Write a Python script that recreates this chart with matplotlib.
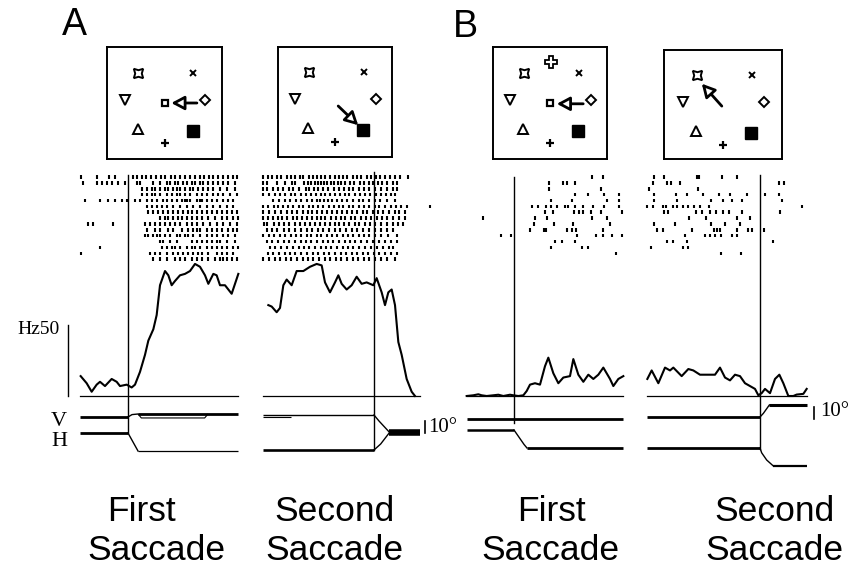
import matplotlib.pyplot as plt
from matplotlib.patches import FancyArrowPatch

plt.rcParams['font.family'] = ['Liberation Sans', 'DejaVu Sans']
SERIF = ['Liberation Serif', 'DejaVu Serif']

W, H = 849, 569

# ---------------- stimulus displays (display units, y up) ----------------
item_names = ['star', 'xmark', 'tri_down', 'diamond', 'tri_up', 'target', 'plus', 'cross', 'fix']
item_x = [-0.66, 0.72, -1.00, 1.02, -0.67, 0.70, 0.00, 0.03, 0.00]
item_y = [0.75, 0.75, 0.07, 0.07, -0.65, -0.70, -1.00, 1.02, 0.00]

items_A1 = ['star', 'xmark', 'tri_down', 'diamond', 'tri_up', 'target', 'plus', 'fix']
items_A2 = ['star', 'xmark', 'tri_down', 'diamond', 'tri_up', 'target', 'plus']
items_B1 = ['star', 'xmark', 'tri_down', 'diamond', 'tri_up', 'target', 'plus', 'cross', 'fix']
items_B2 = ['star', 'xmark', 'tri_down', 'diamond', 'tri_up', 'target', 'plus']

# saccade vectors drawn as arrows: (start, end)
arrow_A1 = [(0.81, 0.00), (0.17, 0.00)]
arrow_A2 = [(0.08, -0.10), (0.58, -0.58)]
arrow_B1 = [(0.83, -0.02), (0.17, -0.02)]
arrow_B2 = [(-0.03, -0.04), (-0.53, 0.52)]

# ---------------- rasters: spike times (ms from saccade), one list per trial ----------------
raster_A1 = [
    [-142, -94, -56, -39, 14, 28, 41, 55, 70, 84, 98, 112, 128, 142, 155, 170, 185, 200, 215, 228, 243, 256, 270, 285, 300, 315, 326],
    [-134, -94, -79, -64, -49, -29, -9, 28, 36, 76, 96, 116, 126, 141, 151, 166, 176, 191, 201, 216, 226, 241, 256, 271, 286, 301, 321],
    [41, 56, 71, 81, 96, 111, 121, 136, 146, 156, 171, 186, 196, 211, 226, 241, 256, 276, 296, 321],
    [41, 56, 71, 81, 96, 116, 131, 146, 156, 171, 186, 206, 221, 236, 256, 271, 286, 306, 326],
    [-129, -84, -59, -39, -19, -4, 21, 36, 56, 71, 86, 106, 116, 131, 146, 161, 171, 176, 186, 206, 216, 221, 236, 251, 266, 286, 301, 316],
    [56, 71, 86, 101, 116, 136, 156, 176, 196, 216, 236, 256, 276, 296, 316],
    [61, 76, 91, 106, 121, 136, 151, 166, 181, 191, 206, 221, 236, 251, 266, 281, 296, 311, 326],
    [96, 111, 121, 136, 151, 161, 176, 191, 206, 221, 241, 261, 281, 296, 316, 331],
    [-119, -104, -44, 51, 66, 81, 96, 111, 126, 141, 156, 176, 191, 206, 226, 246, 266, 286, 306, 326],
    [56, 81, 96, 121, 136, 161, 181, 196, 206, 216, 236, 251, 266, 281, 301, 316, 326],
    [51, 61, 76, 86, 96, 111, 126, 146, 156, 171, 181, 196, 216, 236, 251, 266, 286, 301, 321],
    [96, 106, 126, 146, 191, 206, 221, 236, 251, 266, 276, 296, 321],
    [-84, 101, 116, 131, 141, 156, 176, 191, 201, 216, 236, 251, 266, 281, 296, 316, 331],
    [-142, 66, 81, 96, 116, 136, 151, 166, 181, 196, 211, 221, 241, 266, 281, 296, 316],
    [76, 96, 116, 141, 156, 171, 191, 206, 221, 241, 261, 276, 286, 296, 311, 326],
]
raster_A2 = [
    [-332, -318, -306, -290, -278, -262, -250, -236, -222, -212, -196, -184, -170, -158, -146, -132, -118, -106, -92, -80, -64, -52, -38, -22, -10, 6, 18, 34, 48, 62, 78, 103],
    [-332, -322, -292, -268, -245, -236, -210, -198, -190, -178, -168, -160, -150, -142, -128, -120, -108, -98, -88, -72, -60, -42, -30, -16, -4, 12, 24, 40, 56, 68],
    [-332, -320, -302, -288, -272, -256, -244, -226, -204, -194, -180, -168, -152, -138, -120, -104, -90, -76, -62, -44, -30, -14, 4, 20, 40, 58, 68],
    [-332, -316, -298, -282, -266, -250, -236, -218, -204, -190, -174, -160, -146, -132, -118, -102, -86, -74, -58, -42, -26, -12, 6, 22, 36, 50, 63],
    [-302, -286, -268, -252, -234, -218, -202, -186, -172, -162, -150, -138, -126, -110, -96, -80, -62, -46, -32, -16, 2, 18, 38, 63],
    [-332, -318, -300, -288, -272, -258, -242, -226, -212, -196, -182, -168, -152, -136, -120, -106, -92, -76, -62, -46, -30, -16, 2, 16, 32, 50, 66, 82, 98, 168],
    [-332, -314, -296, -278, -262, -246, -232, -214, -198, -186, -170, -156, -140, -126, -110, -96, -80, -66, -50, -34, -20, -4, 12, 28, 46, 62, 76, 93],
    [-332, -318, -304, -288, -276, -260, -244, -230, -216, -200, -186, -172, -160, -146, -130, -114, -100, -86, -70, -56, -40, -24, -8, 8, 24, 40, 58, 76, 93],
    [-330, -320, -300, -286, -270, -254, -238, -222, -206, -192, -176, -162, -148, -132, -118, -104, -90, -74, -58, -44, -28, -12, 4, 22, 38, 56, 72, 88],
    [-322, -306, -290, -270, -254, -236, -218, -202, -186, -168, -152, -134, -118, -102, -84, -66, -50, -32, -16, 2, 20, 38, 58],
    [-332, -316, -300, -282, -268, -250, -234, -220, -202, -188, -172, -158, -142, -126, -110, -94, -78, -62, -46, -30, -14, 4, 22, 42, 68],
    [-322, -306, -288, -270, -254, -238, -220, -204, -188, -170, -154, -138, -122, -106, -88, -72, -56, -40, -22, -4, 14, 34, 52, 68],
    [-312, -296, -278, -260, -244, -226, -210, -194, -176, -160, -144, -128, -110, -94, -78, -62, -44, -28, -10, 8, 26, 44, 58],
    [-317, -302, -286, -268, -252, -236, -218, -200, -184, -168, -150, -134, -116, -100, -84, -66, -50, -34, -18, 0, 16, 32, 50, 68],
    [-332, -316, -298, -282, -264, -248, -230, -214, -198, -182, -164, -148, -132, -114, -98, -82, -64, -48, -30, -14, 4, 20, 38, 63],
]
raster_B1 = [
    [233, 266],
    [106, 148, 158, 183],
    [106, 260],
    [183, 223, 271, 316],
    [110, 175, 278, 316],
    [53, 73, 96, 110, 128, 153, 163, 183, 208, 238, 270, 316],
    [93, 116, 181, 196, 208, 230, 261, 323],
    [-92, 63, 100, 235, 278],
    [60, 120, 178, 288],
    [48, 90, 96, 160, 173, 186, 266],
    [-40, -9, 188, 246, 266, 293, 325],
    [123, 143, 183],
    [110, 203, 221],
    [306],
]
raster_B2 = [
    [-318, -288, -190, -182, -115, -70],
    [-322, -280, -268, -240, 58, 72],
    [-332, -185],
    [-318, -252, -220, -172, -122, -90, -38, 15, 58],
    [-318, -250, -148, -110, -85, -55, 65],
    [-338, -320, -292, -282, -262, -248, -232, -215, -198, -180, -152, 125],
    [-288, -275, -192, -175, -150, -132, -112, -92, -55, 60],
    [-212, -162, -70, -30],
    [-318, -255, -148, -105, -60],
    [-310, -290, -205, -138, -130, -120, -70, -35, -25, 13],
    [-225, -165, -150, -135, -118, -85, -70],
    [-280, -260, -218, 38],
    [-328, -232, -215],
    [-118, -58],
]

# ---------------- spike density (Hz) ----------------
rate_A1_t = [-142, -124, -109, -94, -84, -69, -49, -34, -24, -4, 11, 21, 36, 51, 61, 76, 86, 96, 111, 121, 131, 141, 156, 171, 186, 201, 216, 231, 241, 256, 266, 276, 291, 301, 311, 321, 331]
rate_A1_hz = [14, 9, 3, 8, 10, 7, 12, 10, 7, 8, 6, 8, 17, 29, 39, 47, 57, 78, 88, 85, 78, 81, 85, 86, 88, 93, 91, 85, 79, 86, 85, 78, 78, 75, 72, 79, 86]
rate_A2_t = [-317, -307, -292, -282, -272, -262, -247, -232, -212, -192, -172, -157, -147, -132, -117, -107, -97, -82, -67, -52, -37, -22, -2, 8, 23, 33, 43, 53, 63, 73, 83, 98, 113, 123]
rate_A2_hz = [64, 63, 59, 62, 78, 82, 78, 88, 88, 91, 93, 92, 80, 73, 80, 85, 79, 75, 78, 84, 79, 80, 78, 83, 73, 64, 73, 75, 64, 38, 29, 12, 3, 0]
rate_B1_t = [-142, -122, -107, -97, -82, -62, -47, -32, -12, -2, 13, 28, 38, 48, 63, 78, 93, 103, 118, 133, 148, 168, 178, 193, 208, 223, 238, 253, 268, 288, 298, 313, 328]
rate_B1_hz = [0, 0.5, 1.2, 0.5, 0, 0.5, 0.9, 0, 0.9, 0.5, 0, 0.5, 3.5, 8, 9, 8, 21, 27, 16, 9, 13, 14, 26, 15, 10, 15, 12, 15, 20, 12, 7, 12, 14]
rate_B2_t = [-338, -325, -305, -285, -270, -260, -235, -215, -200, -180, -135, -120, -105, -90, -75, -60, -45, -30, -15, -5, 5, 15, 30, 45, 58, 70, 85, 100, 110, 130, 140]
rate_B2_hz = [12, 18, 9, 20, 18, 20, 14, 19, 18, 15, 15, 20, 13, 11, 15, 14, 9, 7, 5, 0.5, 2, 5, 2, 12, 15, 9, 0, 0, 1, 1.5, 5]

# recording window (ms) of each panel
window_A1 = (-144, 330)
window_A2 = (-333, 138)
window_B1 = (-141, 327)
window_B2 = (-339, 141)

# ---------------- eye position (deg, relative to pre-saccade) ----------------
eyeV_A1_t, eyeV_A1 = [-144, 0, 12, 30, 330], [0, 0, 2, 2.5, 2.5]
eyeH_A1_t, eyeH_A1 = [-144, 0, 30, 330], [0, 0, -15, -15]
eyeV_A2_t, eyeV_A2 = [-333, 0, 15, 45, 138], [0, 0, -5, -14, -14]
eyeH_A2_t, eyeH_A2 = [-333, 0, 20, 45, 138], [0, 0, 5, 14, 14]
eyeV_B1_t, eyeV_B1 = [-141, 327], [0, 0]
eyeH_B1_t, eyeH_B1 = [-141, 0, 10, 20, 30, 39, 327], [0, 0, -4, -8, -12, -15, -15]
eyeV_B2_t, eyeV_B2 = [-339, 0, 10, 28, 141], [0, 0, 3, 10, 10]
eyeH_B2_t, eyeH_B2 = [-339, 0, 5, 20, 40, 141], [0, 0, -4, -10, -15, -15]
# a second, stray trace in a few panels
eyeV2_A1_t, eyeV2_A1 = [30, 40, 230, 240], [2.5, -0.8, -0.8, 2.5]
eyeV2_A2_t, eyeV2_A2 = [-333, -250], [-1.5, -1.5]

RATE_BAR_HZ = 50
EYE_BAR_DEG = 10

# ---------------- layout (pixels) ----------------
MS_PER_PX = 3.0
HZ_PX = 1.42
DEG_PX = 1.2
UNIT_PX = 40.0
RAS_TOP, RAS_BOT = 170, 262
ROW0_Y, ROW_DY = 177, 5.87
RATE_BOT, ZERO_Y = 399, 396
EYE_BOT = 475

marker_style = {
    'star': dict(marker=(4, 1, 45), ms=9.5, mfc='white', mec='black', mew=1.4),
    'xmark': dict(marker='x', ms=4, mec='black', mew=1.4),
    'tri_down': dict(marker='v', ms=7.2, mfc='white', mec='black', mew=1.4),
    'diamond': dict(marker='D', ms=5.5, mfc='white', mec='black', mew=1.4),
    'tri_up': dict(marker='^', ms=7.2, mfc='white', mec='black', mew=1.4),
    'target': dict(marker='s', ms=8.3, mfc='black', mec='black', mew=1),
    'plus': dict(marker='+', ms=5.5, mec='black', mew=1.6),
    'cross': dict(marker='P', ms=8, mfc='white', mec='black', mew=1.3),
    'fix': dict(marker='s', ms=4.2, mfc='white', mec='black', mew=1.6),
}

panels = [
    dict(sac_x=128, box=(107, 47, 222, 159), line=(175, 433), items=items_A1, arrow=arrow_A1,
         raster=raster_A1, rate_t=rate_A1_t, rate=rate_A1_hz, window=window_A1,
         eye=[(eyeV_A1_t, eyeV_A1, 417, 2.0, 2.0), (eyeH_A1_t, eyeH_A1, 433, 2.0, 0.9),
              (eyeV2_A1_t, eyeV2_A1, 417, 0.8, 0.8)]),
    dict(sac_x=374, box=(278, 47, 392, 157), line=(172, 450), items=items_A2, arrow=arrow_A2,
         raster=raster_A2, rate_t=rate_A2_t, rate=rate_A2_hz, window=window_A2,
         eye=[(eyeV_A2_t, eyeV_A2, 415, 1.0, 4.0), (eyeH_A2_t, eyeH_A2, 450, 1.9, 4.0),
              (eyeV2_A2_t, eyeV2_A2, 415, 0.8, 0.8)]),
    dict(sac_x=514, box=(493, 47, 607, 159), line=(177, 423), items=items_B1, arrow=arrow_B1,
         raster=raster_B1, rate_t=rate_B1_t, rate=rate_B1_hz, window=window_B1,
         eye=[(eyeV_B1_t, eyeV_B1, 419, 2.0, 2.0), (eyeH_B1_t, eyeH_B1, 430, 1.8, 2.0)]),
    dict(sac_x=760, box=(664, 50, 782, 159), line=(175, 449), items=items_B2, arrow=arrow_B2,
         raster=raster_B2, rate_t=rate_B2_t, rate=rate_B2_hz, window=window_B2,
         eye=[(eyeV_B2_t, eyeV_B2, 417, 2.0, 2.2), (eyeH_B2_t, eyeH_B2, 448, 2.0, 1.6)]),
]

fig = plt.figure(figsize=(W / 100, H / 100), dpi=100)


def px_axes(x0, y0, x1, y1):
    return fig.add_axes([x0 / W, 1 - y1 / H, (x1 - x0) / W, (y1 - y0) / H])


def fig_text(x, y, s, **kw):
    fig.text(x / W, 1 - y / H, s, **kw)


def draw_eye(ax, t, v, off_px, lw_pre, lw_post):
    base = (EYE_BOT - off_px) / DEG_PX
    y = [base + vi for vi in v]
    if 0 not in t or all(vi == v[0] for vi in v):
        ax.plot(t, y, color='black', lw=lw_pre, solid_capstyle='butt')
        return
    i0 = t.index(0)
    k = next(i for i in range(i0, len(v)) if v[i] == v[-1])
    ax.plot(t[:i0 + 1], y[:i0 + 1], color='black', lw=lw_pre, solid_capstyle='butt')
    ax.plot(t[i0:k + 1], y[i0:k + 1], color='black', lw=1.0)
    ax.plot(t[k:], y[k:], color='black', lw=lw_post, solid_capstyle='butt')


half = 130
xlim = (-half * MS_PER_PX, half * MS_PER_PX)
eye_axes = []
rate_axes = []

for p in panels:
    sx = p['sac_x']

    # stimulus display
    x0, y0, x1, y1 = p['box']
    ax = px_axes(x0, y0, x1, y1)
    ax.set_xlim(-(x1 - x0) / 2 / UNIT_PX, (x1 - x0) / 2 / UNIT_PX)
    ax.set_ylim(-(y1 - y0) / 2 / UNIT_PX, (y1 - y0) / 2 / UNIT_PX)
    ax.set_xticks([])
    ax.set_yticks([])
    for s in ax.spines.values():
        s.set_linewidth(1.4)
    for name in p['items']:
        i = item_names.index(name)
        ax.plot(item_x[i], item_y[i], ls='none', **marker_style[name])
    a0, a1 = p['arrow']
    ax.add_patch(FancyArrowPatch(a0, a1, arrowstyle='-|>,head_length=0.6,head_width=0.32',
                                 mutation_scale=13, lw=2.0, fc='white', ec='black',
                                 shrinkA=0, shrinkB=0))

    top, bot = p['line']

    # raster
    ax = px_axes(sx - half, RAS_TOP, sx + half, RAS_BOT)
    ax.set_axis_off()
    ax.set_xlim(*xlim)
    ax.set_ylim((RAS_BOT - ROW0_Y) / ROW_DY, (RAS_TOP - ROW0_Y) / ROW_DY)
    ax.eventplot(p['raster'], lineoffsets=list(range(len(p['raster']))), linelengths=0.6,
                 linewidths=1.5, colors='black')
    ax.axvline(0, ymin=0, ymax=(RAS_BOT - top) / (RAS_BOT - RAS_TOP), color='black', lw=1.0)

    # spike density
    ax = px_axes(sx - half, RAS_BOT, sx + half, RATE_BOT)
    ax.set_axis_off()
    ax.set_xlim(*xlim)
    ax.set_ylim(-(RATE_BOT - ZERO_Y) / HZ_PX, (ZERO_Y - RAS_BOT) / HZ_PX)
    ax.plot(p['rate_t'], p['rate'], color='black', lw=1.5, clip_on=False)
    ax.plot(p['window'], [0, 0], color='black', lw=0.9)
    ax.axvline(0, color='black', lw=1.0)
    rate_axes.append(ax)

    # eye position
    ax = px_axes(sx - half, RATE_BOT, sx + half, EYE_BOT)
    ax.set_axis_off()
    ax.set_xlim(*xlim)
    ax.set_ylim(0, (EYE_BOT - RATE_BOT) / DEG_PX)
    for t, v, off, lw0, lw1 in p['eye']:
        draw_eye(ax, t, v, off, lw0, lw1)
    ax.axvline(0, ymin=(EYE_BOT - bot) / (EYE_BOT - RATE_BOT), ymax=1, color='black', lw=1.0)
    eye_axes.append(ax)

# scale bars
rate_axes[0].plot([-180, -180], [0, RATE_BAR_HZ], color='black', lw=1.0, clip_on=False)
fig_text(60, 330, 'Hz50', family=SERIF, fontsize=14, ha='right', va='center')
for ax, t_bar, y_px, tx, ty in [(eye_axes[1], 153, 433, 428, 428), (eye_axes[3], 162, 419, 820, 411)]:
    yb = (EYE_BOT - y_px) / DEG_PX
    ax.plot([t_bar, t_bar], [yb, yb + EYE_BAR_DEG], color='black', lw=1.2, clip_on=False)
    fig_text(tx, ty, '10°', family=SERIF, fontsize=15, ha='left', va='center')

fig_text(67, 421, 'V', family=SERIF, fontsize=16, ha='right', va='center')
fig_text(67, 442, 'H', family=SERIF, fontsize=16, ha='right', va='center')

fig_text(62, 35, 'A', fontsize=27, ha='left', va='baseline')
fig_text(453, 37, 'B', fontsize=27, ha='left', va='baseline')

labels_top = ['First', 'Second', 'First', 'Second']
for cx_top, cx_bot, word in zip([142, 335, 551, 775], [156, 334, 550, 774], labels_top):
    fig_text(cx_top, 521, word, fontsize=25.5, ha='center', va='baseline')
    fig_text(cx_bot, 560, 'Saccade', fontsize=25.5, ha='center', va='baseline')

fig.savefig('out.png', dpi=100)
